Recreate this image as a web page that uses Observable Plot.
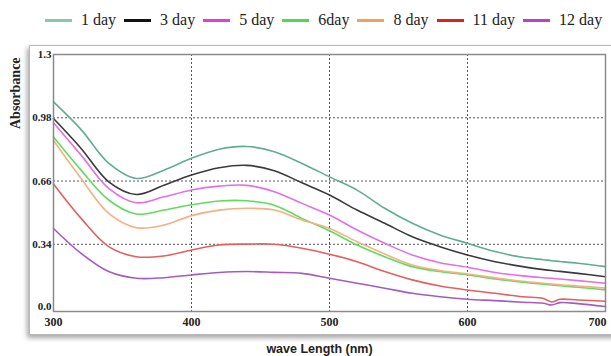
<!DOCTYPE html>
<html>
<head>
<meta charset="utf-8">
<script src="https://cdn.jsdelivr.net/npm/d3@7"></script>
<script src="https://cdn.jsdelivr.net/npm/@observablehq/plot@0.6"></script>
<style>
  html, body { margin: 0; padding: 0; background: #fff; width: 611px; height: 356px; overflow: hidden; }
  #wrap { position: relative; width: 611px; height: 356px; }
  #panel { position: absolute; left: 29px; top: 45px; width: 600px; height: 288px;
           border: 1px solid #b8b8b8; box-shadow: -2px 3px 5px rgba(0,0,0,0.35); background: #fff; }
  #legend { position: absolute; left: 45px; top: 8px; height: 24px; display: flex; align-items: center;
            font-family: "Liberation Serif", "DejaVu Serif", serif; font-size: 16px; color: #222; white-space: nowrap; }
  #legend .item { display: flex; align-items: center; }
  #legend .sw { width: 27px; height: 3px; margin-right: 9px; }
  #legend .lab { margin-right: 8px; }
  #chart { position: absolute; left: 0; top: 36px; }
</style>
</head>
<body>
<div id="wrap">
  <div id="panel"></div>
  <div id="legend"></div>
  <div id="chart"></div>
</div>
<script>
// Wavelengths (nm)
const wavelengths = [300, 320, 340, 360, 380, 400, 420, 440, 460, 480, 500, 520, 540, 560, 580, 600, 620, 640, 655, 661, 667, 680, 700];

// Absorbance per series
const day1  = [1.06, 0.92, 0.75, 0.673, 0.715, 0.775, 0.821, 0.835, 0.808, 0.749, 0.681, 0.614, 0.522, 0.446, 0.387, 0.345, 0.303, 0.274, 0.262, 0.257, 0.253, 0.244, 0.227];
const day3  = [0.976, 0.825, 0.656, 0.592, 0.639, 0.69, 0.727, 0.739, 0.712, 0.651, 0.589, 0.513, 0.446, 0.378, 0.328, 0.286, 0.252, 0.227, 0.212, 0.207, 0.203, 0.193, 0.176];
const day5  = [0.955, 0.791, 0.623, 0.55, 0.58, 0.615, 0.634, 0.638, 0.606, 0.547, 0.488, 0.412, 0.345, 0.286, 0.247, 0.224, 0.197, 0.18, 0.171, 0.168, 0.164, 0.156, 0.143];
const day6  = [0.883, 0.715, 0.564, 0.493, 0.513, 0.54, 0.559, 0.56, 0.538, 0.471, 0.408, 0.336, 0.277, 0.227, 0.202, 0.185, 0.165, 0.148, 0.138, 0.134, 0.13, 0.123, 0.109];
const day8  = [0.865, 0.673, 0.496, 0.424, 0.437, 0.485, 0.513, 0.522, 0.513, 0.463, 0.42, 0.353, 0.291, 0.235, 0.207, 0.19, 0.17, 0.153, 0.143, 0.139, 0.135, 0.129, 0.118];
const day11 = [0.645, 0.471, 0.328, 0.277, 0.281, 0.311, 0.336, 0.341, 0.34, 0.32, 0.29, 0.252, 0.202, 0.16, 0.129, 0.109, 0.092, 0.075, 0.066, 0.048, 0.062, 0.058, 0.052];
const day12 = [0.42, 0.294, 0.202, 0.168, 0.171, 0.185, 0.197, 0.202, 0.198, 0.193, 0.168, 0.143, 0.118, 0.092, 0.075, 0.062, 0.055, 0.047, 0.042, 0.033, 0.045, 0.04, 0.025];

const seriesNames  = ["1 day", "3 day", "5 day", "6day", "8 day", "11 day", "12 day"];
const seriesValues = [day1, day3, day5, day6, day8, day11, day12];
const lineColors   = ["#5fae8f", "#3a3a3a", "#e46ee8", "#5fdc5f", "#f3b184", "#e2605e", "#a45cc2"];
const legendColors = ["#86c8aa", "#111111", "#e040d0", "#50d850", "#f0a060", "#e02020", "#c040c0"];

const xTicks = [300, 400, 500, 600, 700];
const yTicks = [0, 0.34, 0.66, 0.98, 1.3];
const yTickLabels = ["0.0", "0.34", "0.66", "0.98", "1.3"];
const gridX = [400, 500, 600];
const gridY = [0.34, 0.66, 0.98];

const rows = [];
seriesNames.forEach((name, s) => {
  wavelengths.forEach((w, i) => rows.push({series: name, wl: w, abs: seriesValues[s][i]}));
});

// Legend
const legend = document.getElementById("legend");
seriesNames.forEach((name, s) => {
  const item = document.createElement("div");
  item.className = "item";
  const sw = document.createElement("span");
  sw.className = "sw";
  sw.style.background = legendColors[s];
  const lab = document.createElement("span");
  lab.className = "lab";
  lab.textContent = name;
  item.appendChild(sw);
  item.appendChild(lab);
  legend.appendChild(item);
});

const serif = "'Liberation Serif', 'DejaVu Serif', serif";
const tickStyle = {tickSize: 0, fontWeight: "bold", fill: "#222", label: null};
const yFmt = d => yTickLabels[yTicks.indexOf(d)];

const chart = Plot.plot({
  width: 611,
  height: 320,
  marginLeft: 53,
  marginRight: 6,
  marginTop: 18,
  marginBottom: 45,
  style: {background: "transparent", fontFamily: serif, overflow: "visible"},
  x: {domain: [300, 700], ticks: xTicks, label: null},
  y: {domain: [0, 1.3], ticks: yTicks, label: null},
  color: {domain: seriesNames, range: lineColors},
  marks: [
    Plot.ruleX(gridX, {stroke: "#555", strokeDasharray: "2,2", strokeWidth: 1}),
    Plot.ruleY(gridY, {stroke: "#555", strokeDasharray: "2,2", strokeWidth: 1}),
    Plot.line(rows, {x: "wl", y: "abs", z: "series", stroke: "series", strokeWidth: 1.6, curve: "catmull-rom"}),
    Plot.frame({stroke: "#8a8a8a", strokeWidth: 1.5}),
    Plot.axisX(xTicks.slice(0, 4), {...tickStyle, tickPadding: 6, fontSize: 12, tickFormat: d => String(d)}),
    Plot.axisX(xTicks.slice(4), {...tickStyle, tickPadding: 6, fontSize: 12, dx: -8, tickFormat: d => String(d)}),
    Plot.axisY(yTicks.slice(1), {...tickStyle, tickPadding: 2, fontSize: 11, tickFormat: yFmt}),
    Plot.axisY(yTicks.slice(0, 1), {...tickStyle, tickPadding: 2, fontSize: 11, dy: -5, tickFormat: yFmt}),
    Plot.text(["Absorbance"], {frameAnchor: "left", rotate: -90, dx: -38, dy: -54, fontSize: 14, fontWeight: "bold", fontFamily: serif, fill: "#222"}),
    Plot.text(["wave Length (nm)"], {frameAnchor: "bottom", dx: -10, dy: 41, fontSize: 12.5, fontWeight: "bold", fontFamily: "'Liberation Sans', Arial, sans-serif", fill: "#222"})
  ]
});
document.getElementById("chart").appendChild(chart);
</script>
</body>
</html>
